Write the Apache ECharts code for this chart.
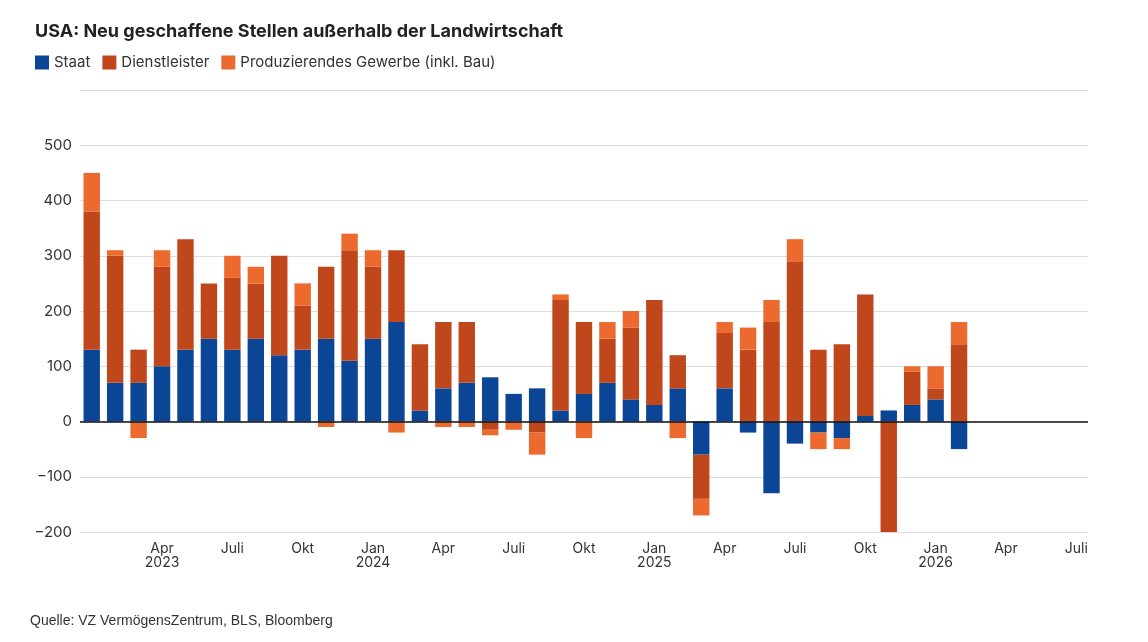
<!DOCTYPE html>
<html><head><meta charset="utf-8">
<script src="https://cdn.jsdelivr.net/npm/echarts@6/dist/echarts.min.js"></script>
<style>html,body{margin:0;background:#fff}#c{width:1148px;height:642px}</style></head>
<body><div id="c"></div>
<script>
const months = [];
const mn = ['Jan','Feb','Mrz','Apr','Mai','Jun','Juli','Aug','Sep','Okt','Nov','Dez'];
for (let y = 2023; y <= 2026; y++) for (let m = 0; m < 12; m++) { if (y === 2026 && m > 6) break; months.push(mn[m] + ' ' + y); }
const staat = [130,70,70,100,130,150,130,150,120,130,150,110,150,180,20,60,70,80,50,60,20,50,70,40,30,60,-60,60,-20,-130,-40,-20,-30,10,20,30,40,-50];
const dienst = [250,230,60,180,200,100,130,100,180,80,130,200,130,130,120,120,110,-15,0,-20,200,130,80,130,190,60,-80,100,130,180,290,130,140,220,-250,60,20,140];
const prod = [70,10,-30,30,0,0,40,30,0,40,-10,30,30,-20,0,-10,-10,-10,-15,-40,10,-30,30,30,0,-30,-30,20,40,40,40,-30,-20,0,-30,10,40,40];
const names = ['Staat','Dienstleister','Produzierendes Gewerbe (inkl. Bau)'];
const colors = ['#0b4596','#c0461b','#ec6a2e'];
const chart = echarts.init(document.getElementById('c'));
const mk = (n, d, c) => ({name:n, type:'bar', stack:'a', data:d, itemStyle:{color:c}, barCategoryGap:'30%'});
const s0 = mk(names[0],staat,colors[0]);
s0.markLine = {silent:true, symbol:'none', label:{show:false}, lineStyle:{color:'#111',type:'solid',width:1.5}, data:[{yAxis:0}]};
chart.setOption({
  textStyle:{fontFamily:'Inter, Roboto, sans-serif'},
  title:{text:'USA: Neu geschaffene Stellen außerhalb der Landwirtschaft', left:30, top:18, textStyle:{fontSize:18,fontWeight:'bold',color:'#222'}},
  legend:{left:30, top:50, itemWidth:14, itemHeight:14, icon:'rect', itemGap:12, textStyle:{fontSize:15,color:'#333'}},
  graphic:[{type:'text', left:30, bottom:14, style:{text:'Quelle: VZ VermögensZentrum, BLS, Bloomberg', fontSize:14, fill:'#333'}}],
  grid:{left:80, right:60, top:90, bottom:110},
  xAxis:{type:'category', data:months, axisTick:{show:false}, axisLine:{show:false, onZero:false},
    axisLabel:{interval:0, fontSize:14, color:'#333', margin:10,
      formatter:(v)=>{const [m,y]=v.split(' '); if(v==='Jan 2023') return ''; if(m==='Jan') return 'Jan\n'+y; if(v==='Apr 2023') return 'Apr\n2023'; if(['Apr','Juli','Okt'].includes(m)) return m; return '';}}},
  yAxis:{type:'value', min:-200, max:600, interval:100, axisLabel:{fontSize:15,color:'#333',formatter:v=>v===600?'':String(v).replace('-','−')}, splitLine:{lineStyle:{color:'#ddd'}}},
  series:[s0, mk(names[1],dienst,colors[1]), mk(names[2],prod,colors[2])]
});
</script></body></html>
